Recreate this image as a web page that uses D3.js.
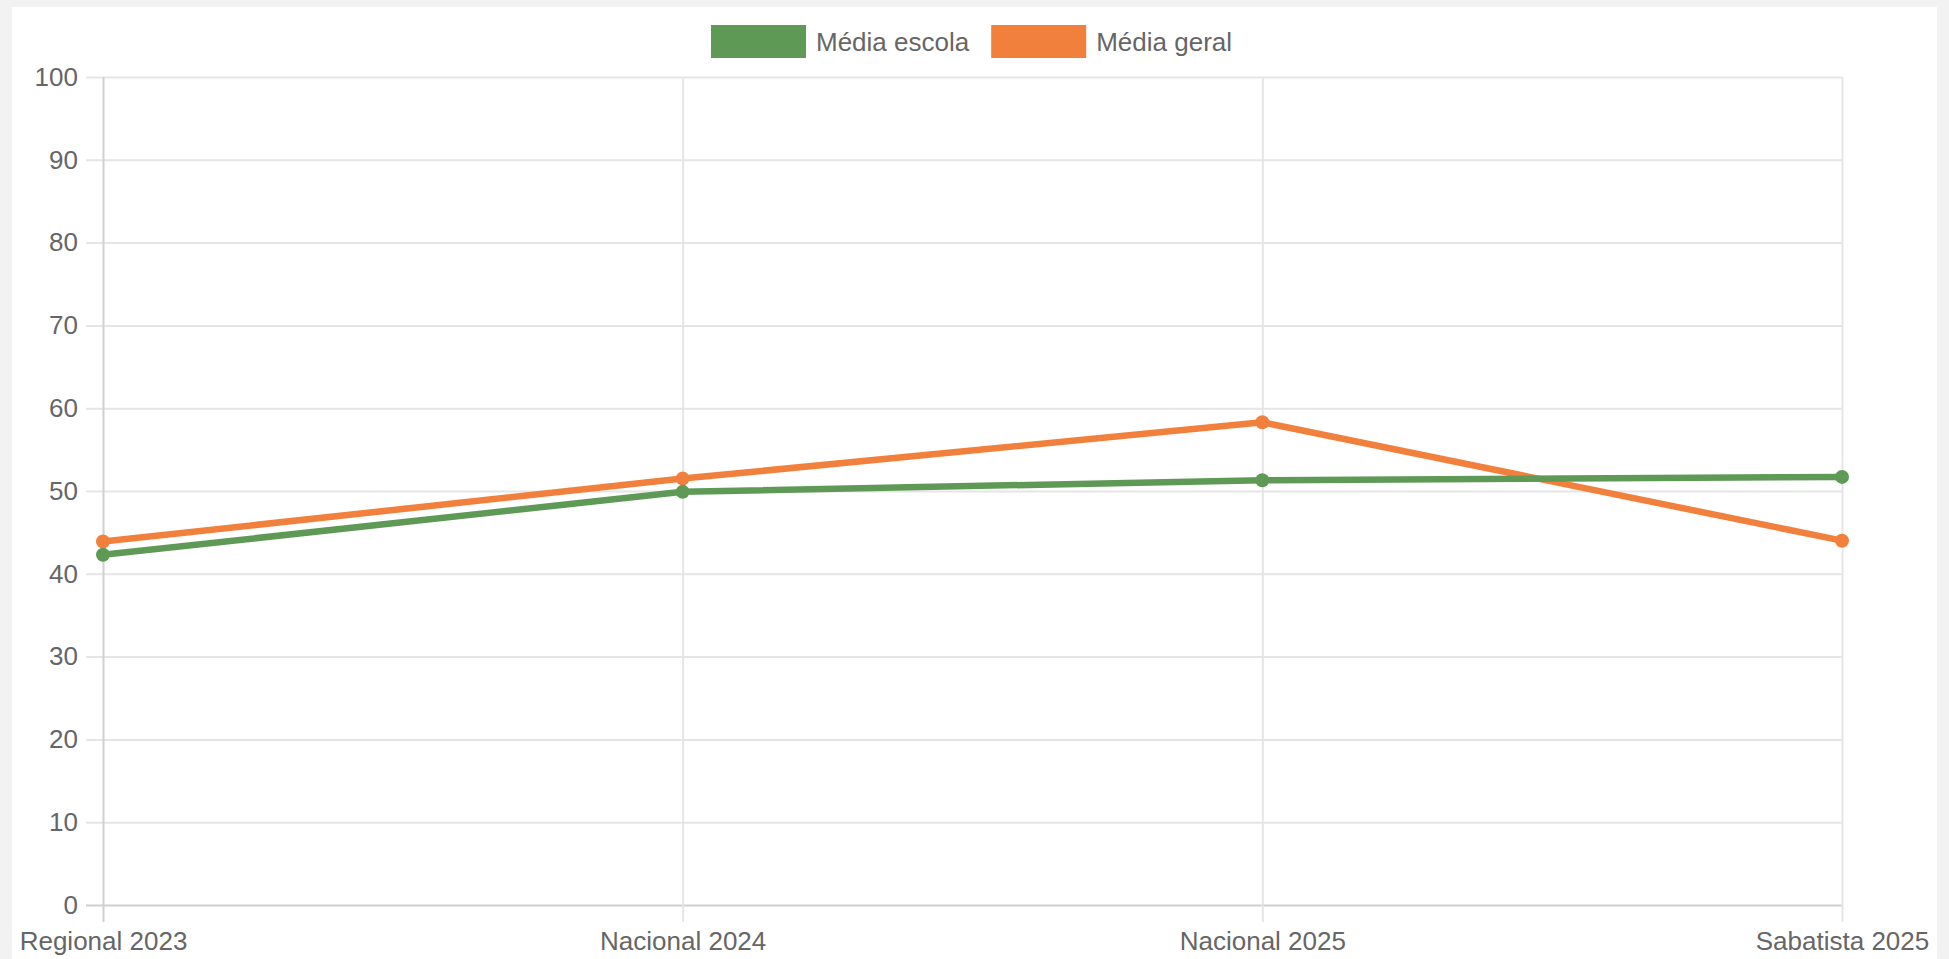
<!DOCTYPE html>
<html>
<head>
<meta charset="utf-8">
<script src="https://cdn.jsdelivr.net/npm/d3@7"></script>
<style>
  html, body { margin: 0; padding: 0; background: #f2f2f2; }
  #panel { position: absolute; left: 12px; top: 7px; width: 1925px; height: 952px; background: #fff; }
  svg { position: absolute; left: 0; top: 0; }
  text { font-family: "Helvetica Neue", Helvetica, Arial, "Liberation Sans", sans-serif; fill: #666; }
</style>
</head>
<body>
<div id="panel"></div>
<svg id="chart" width="1949" height="959"></svg>
<script>
// Data
const categories = ["Regional 2023", "Nacional 2024", "Nacional 2025", "Sabatista 2025"];
const mediaEscola = [42.3, 49.9, 51.3, 51.7];
const mediaGeral = [43.9, 51.5, 58.3, 44.0];
const yTicks = [0, 10, 20, 30, 40, 50, 60, 70, 80, 90, 100];

const seriesNames = ["Média escola", "Média geral"];
const colors = { "Média escola": "#5e9a56", "Média geral": "#f1803d" };

// Plot area (page pixels)
const plot = { left: 103, right: 1842, top: 77, bottom: 905 };
const tick = 17;
const fontSize = 26;

const svg = d3.select("#chart");

const x = d3.scalePoint()
    .domain(categories)
    .range([plot.left, plot.right]);

const y = d3.scaleLinear()
    .domain([0, 100])
    .range([plot.bottom, plot.top]);

// Horizontal grid + y labels
const yAxis = svg.append("g")
    .attr("transform", `translate(${plot.left},0)`)
    .call(d3.axisLeft(y).tickValues(yTicks).tickSize(tick).tickPadding(8));

yAxis.select(".domain").remove();
yAxis.selectAll(".tick line")
    .attr("x1", -tick)
    .attr("x2", plot.right - plot.left)
    .attr("stroke", d => d === 0 ? "#d0d0d0" : "#e5e5e5")
    .attr("stroke-width", 2);
yAxis.selectAll(".tick text")
    .attr("x", -tick - 8)
    .style("font-size", fontSize + "px")
    .attr("font-family", null)
    .attr("fill", "#666");

// Vertical grid + x labels
const xAxis = svg.append("g")
    .attr("transform", `translate(0,${plot.bottom})`)
    .call(d3.axisBottom(x).tickSize(tick).tickPadding(10));

xAxis.select(".domain").remove();
xAxis.selectAll(".tick line")
    .attr("y1", -(plot.bottom - plot.top))
    .attr("y2", tick)
    .attr("stroke", (d, i) => i === 0 ? "#d0d0d0" : "#e5e5e5")
    .attr("stroke-width", 2);
xAxis.selectAll(".tick text")
    .style("font-size", fontSize + "px")
    .attr("font-family", null)
    .attr("fill", "#666");

// Lines: orange underneath, green on top
const series = [
  { name: "Média geral", values: mediaGeral },
  { name: "Média escola", values: mediaEscola }
];

const line = d3.line()
    .x((d, i) => x(categories[i]))
    .y(d => y(d));

series.forEach(s => {
  svg.append("path")
      .datum(s.values)
      .attr("fill", "none")
      .attr("stroke", colors[s.name])
      .attr("stroke-width", 6.5)
      .attr("stroke-linejoin", "round")
      .attr("d", line);

  svg.selectAll(null)
      .data(s.values)
      .enter()
      .append("circle")
      .attr("cx", (d, i) => x(categories[i]))
      .attr("cy", d => y(d))
      .attr("r", 7)
      .attr("fill", colors[s.name]);
});

// Legend
const legend = svg.append("g");
let lx = 711;
seriesNames.forEach(name => {
  legend.append("rect")
      .attr("x", lx)
      .attr("y", 25)
      .attr("width", 95)
      .attr("height", 33)
      .attr("fill", colors[name]);
  const t = legend.append("text")
      .attr("x", lx + 105)
      .attr("y", 42)
      .attr("dy", "0.35em")
      .style("font-size", fontSize + "px")
      .text(name);
  lx += 105 + t.node().getComputedTextLength() + 22;
});
</script>
</body>
</html>
